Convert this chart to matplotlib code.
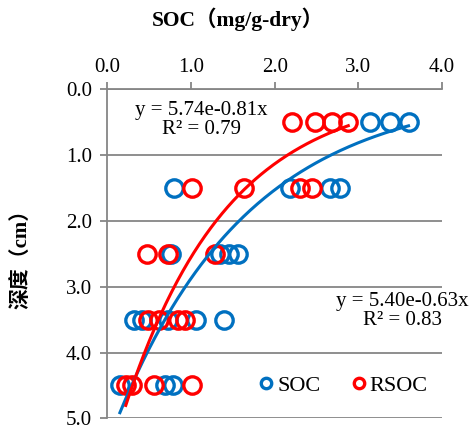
import numpy as np
import matplotlib
matplotlib.use("Agg")
import matplotlib.pyplot as plt

# Data
soc_x = [3.14, 3.38, 3.60,
         0.80, 2.18, 2.66, 2.78,
         0.76, 1.35, 1.45, 1.56,
         0.32, 0.42, 0.72, 1.06, 1.40,
         0.15, 0.69, 0.79]
soc_depth = [0.5, 0.5, 0.5,
             1.5, 1.5, 1.5, 1.5,
             2.5, 2.5, 2.5, 2.5,
             3.5, 3.5, 3.5, 3.5, 3.5,
             4.5, 4.5, 4.5]
rsoc_x = [2.21, 2.48, 2.68, 2.88,
          1.01, 1.63, 2.30, 2.45,
          0.47, 0.73, 1.29,
          0.49, 0.62, 0.84, 0.93,
          0.22, 0.29, 0.56, 1.01]
rsoc_depth = [0.5, 0.5, 0.5, 0.5,
              1.5, 1.5, 1.5, 1.5,
              2.5, 2.5, 2.5,
              3.5, 3.5, 3.5, 3.5,
              4.5, 4.5, 4.5, 4.5]

soc_fit = (5.40, 0.63)
rsoc_fit = (5.74, 0.81)
soc_eq = "y = 5.40e-0.63x\nR² = 0.83"
rsoc_eq = "y = 5.74e-0.81x\nR² = 0.79"

xticks = [0.0, 1.0, 2.0, 3.0, 4.0]
yticks = [0.0, 1.0, 2.0, 3.0, 4.0, 5.0]

blue = "#0070C0"
red = "#FF0000"
gray = "#868686"
serif = ["Liberation Serif", "Noto Sans CJK SC"]

fig = plt.figure(figsize=(4.75, 4.3), dpi=100)
ax = fig.add_axes([0.226, 0.027, 0.7045, 0.766])

ms = 12.5
mew = 2.4
ax.plot(soc_x, soc_depth, linestyle="none", marker="o", markersize=ms,
        markerfacecolor="none", markeredgecolor=blue, markeredgewidth=mew,
        label="SOC", zorder=3)
ax.plot(rsoc_x, rsoc_depth, linestyle="none", marker="o", markersize=ms,
        markerfacecolor="none", markeredgecolor=red, markeredgewidth=mew,
        label="RSOC", zorder=4)

xs = np.linspace(min(soc_x), max(soc_x), 200)
ax.plot(xs, soc_fit[0] * np.exp(-soc_fit[1] * xs), color=blue, lw=2.2, zorder=5)
xr = np.linspace(min(rsoc_x), max(rsoc_x), 200)
ax.plot(xr, rsoc_fit[0] * np.exp(-rsoc_fit[1] * xr), color=red, lw=2.2, zorder=6)

ax.set_xlim(0, 4.0)
ax.set_ylim(5.0, 0.0)
ax.xaxis.tick_top()
ax.set_xticks(xticks)
ax.set_yticks(yticks)
ax.set_xticklabels([f"{v:.1f}" for v in xticks])
ax.set_yticklabels([f"{v:.1f}" for v in yticks])
for lbl in ax.get_xticklabels() + ax.get_yticklabels():
    lbl.set_fontfamily(serif)
    lbl.set_fontsize(15)
ax.tick_params(axis="x", direction="out", length=5, width=1.3, color=gray, pad=4)
ax.tick_params(axis="y", direction="out", length=5, width=1.3, color=gray, pad=6)

ax.yaxis.grid(True, color=gray, lw=1.3)
ax.set_axisbelow(True)
for s in ["right", "bottom"]:
    ax.spines[s].set_visible(False)
for s in ["left", "top"]:
    ax.spines[s].set_color(gray)
    ax.spines[s].set_linewidth(1.3)

ax.text(1.12, 0.47, rsoc_eq, ha="center", va="center", fontsize=15,
        family=serif, linespacing=1.0)
ax.text(3.53, 3.37, soc_eq, ha="center", va="center", fontsize=15,
        family=serif, linespacing=1.0, clip_on=False)

fig.text(0.5, 0.955, "SOC（mg/g-dry）", ha="center", va="center",
         fontsize=15.5, fontweight="bold", family=serif)
fig.text(0.047, 0.41, "深度（cm）", ha="center", va="center", rotation=90,
         fontsize=15, fontweight="bold", family=serif)

leg = ax.legend(loc="center", bbox_to_anchor=(0.70, 0.10), ncol=2,
                frameon=False, markerscale=0.6, handletextpad=0.0,
                columnspacing=1.2, handlelength=1.0,
                prop={"family": serif, "size": 16})

fig.savefig("out.png", dpi=100)
